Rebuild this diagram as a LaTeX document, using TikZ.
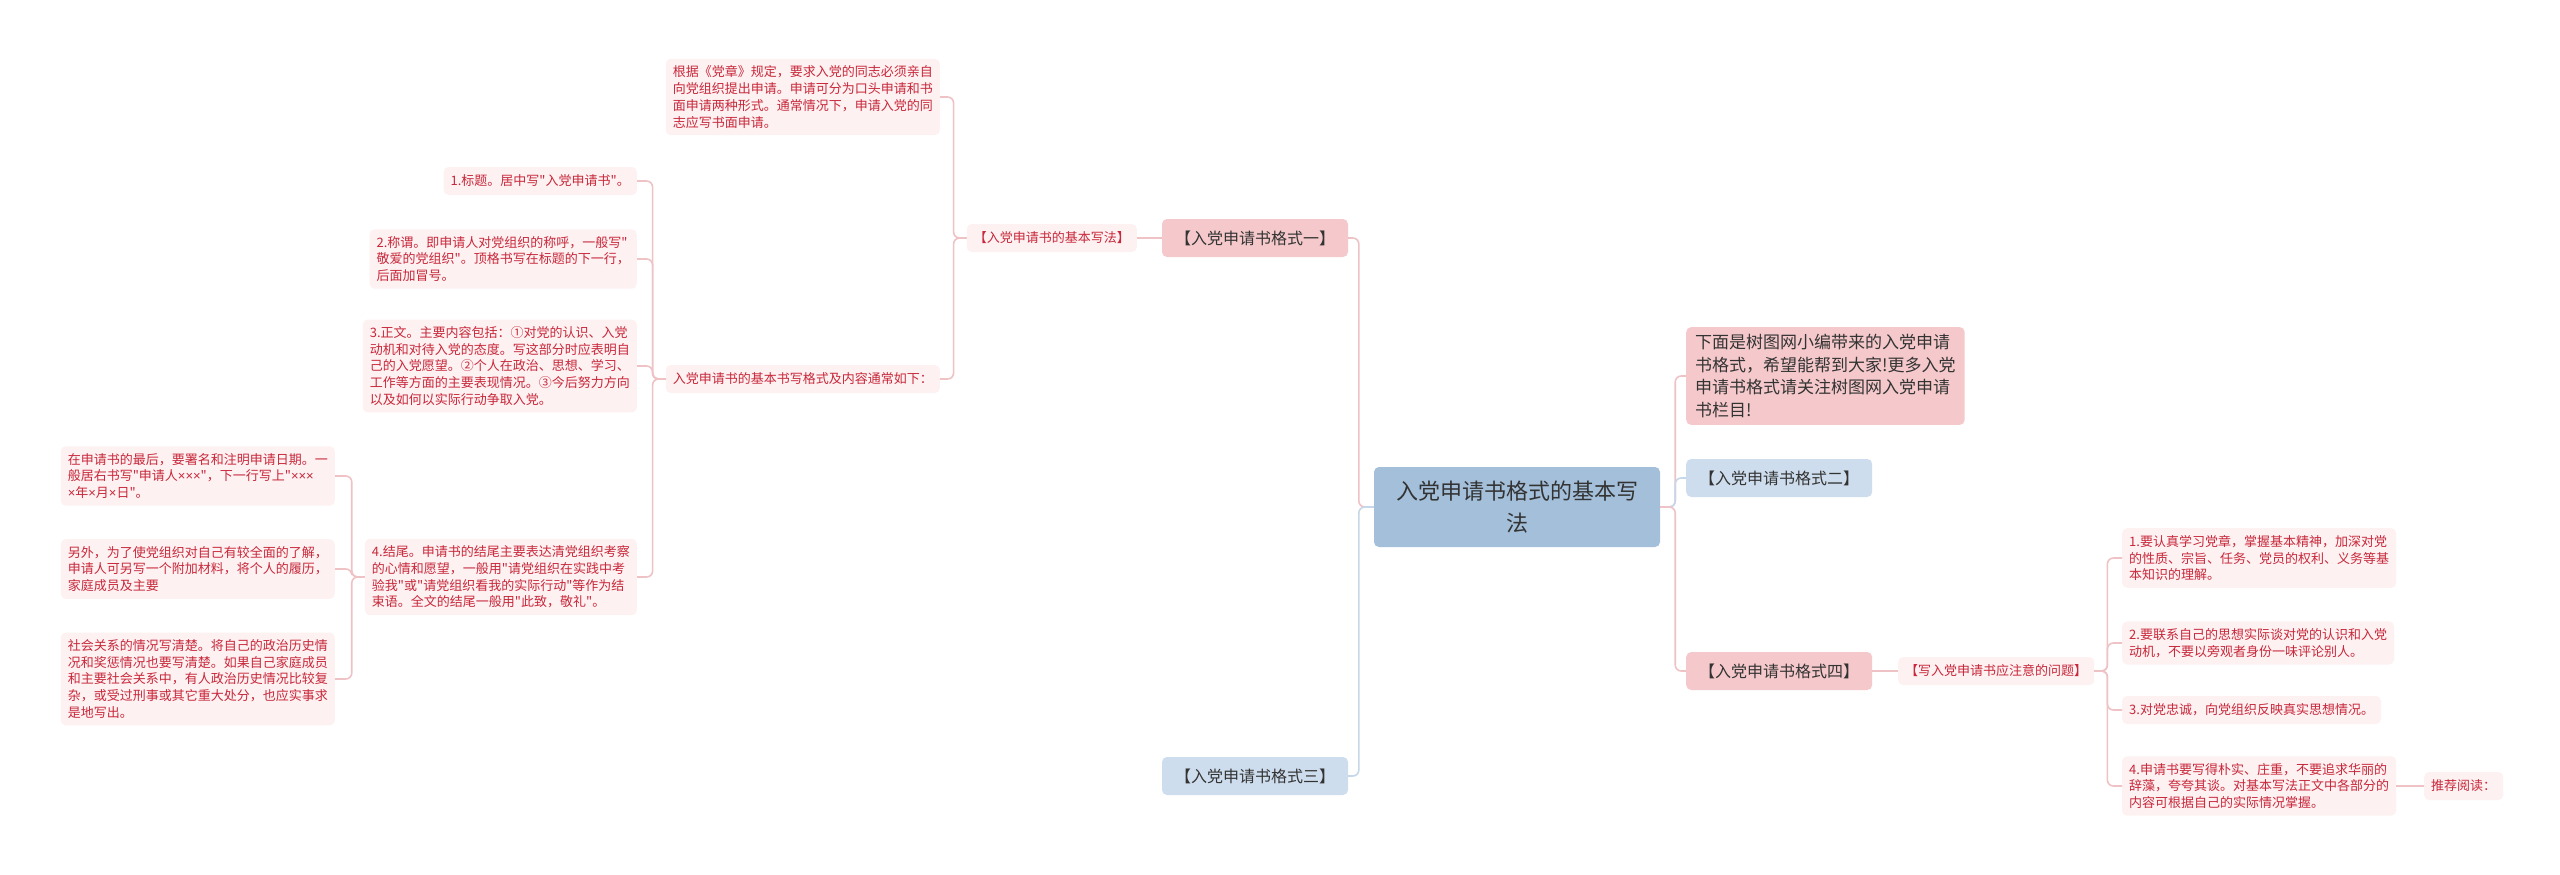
\documentclass[tikz,border=0pt]{standalone}
\usepackage{fontspec}
\newfontfamily\cjkfont{Noto Sans CJK SC}
\newfontfamily\latinfont{Liberation Sans}
\newcommand{\cross}{{\latinfont ×}}
\usepackage{xcolor}
\usetikzlibrary{positioning}
\definecolor{rootblue}{HTML}{A3BFD9}
\definecolor{lightblue}{HTML}{CEDDED}
\definecolor{midpink}{HTML}{F5C9CB}
\definecolor{palepink}{HTML}{FDF1F2}
\definecolor{leafred}{HTML}{C8283A}
\definecolor{darktext}{HTML}{333333}
\definecolor{linkpink}{HTML}{EFC2C5}
\definecolor{linkblue}{HTML}{C6D7E9}

\begin{document}
\begin{tikzpicture}[x=1pt,y=-1pt,
  rootbox/.style={fill=rootblue,rounded corners=5,text=darktext,align=center,font=\cjkfont\fontsize{22}{32}\selectfont,minimum width=286,minimum height=80},
  mainbox/.style={rounded corners=5,text=darktext,font=\cjkfont\fontsize{16}{22}\selectfont,minimum width=186,minimum height=38},
  notebox/.style={fill=midpink,rounded corners=5,text=darktext,align=left,font=\cjkfont\fontsize{17}{22.7}\selectfont,inner xsep=9,inner ysep=7},
  leafbox/.style={fill=palepink,rounded corners=5,text=leafred,align=left,font=\cjkfont\fontsize{13}{16.7}\selectfont,inner xsep=7,inner ysep=7,minimum height=28},
  link/.style={draw=linkpink,line width=1.6,rounded corners=6},
  bluelink/.style={link,draw=linkblue}]
\useasboundingbox[fill=white] (0,0) rectangle (2560,875);

% centre
\node[rootbox] (root) at (1517,507) {入党申请书格式的基本写\\法};

% left half
\node[mainbox,fill=midpink] (fmt1) at (1255,238) {【入党申请书格式一】};
\node[mainbox,fill=lightblue] (fmt3) at (1255,776) {【入党申请书格式三】};
\node[leafbox,anchor=east] (basic) at (1137,238) {【入党申请书的基本写法】};
\node[leafbox,anchor=east] (intro) at (940,97) {根据《党章》规定，要求入党的同志必须亲自\\向党组织提出申请。申请可分为口头申请和书\\面申请两种形式。通常情况下，申请入党的同\\志应写书面申请。};
\node[leafbox,anchor=east] (format) at (940,379) {入党申请书的基本书写格式及内容通常如下：};
\node[leafbox,anchor=east] (t1) at (637,181) {1.标题。居中写"入党申请书"。};
\node[leafbox,anchor=east] (t2) at (637,259) {2.称谓。即申请人对党组织的称呼，一般写"\\敬爱的党组织"。顶格书写在标题的下一行，\\后面加冒号。};
\node[leafbox,anchor=east] (t3) at (637,366) {3.正文。主要内容包括：①对党的认识、入党\\动机和对待入党的态度。写这部分时应表明自\\己的入党愿望。②个人在政治、思想、学习、\\工作等方面的主要表现情况。③今后努力方向\\以及如何以实际行动争取入党。};
\node[leafbox,anchor=east] (t4) at (637,577) {4.结尾。申请书的结尾主要表达清党组织考察\\的心情和愿望，一般用"请党组织在实践中考\\验我"或"请党组织看我的实际行动"等作为结\\束语。全文的结尾一般用"此致，敬礼"。};
\node[leafbox,anchor=east] (e1) at (335,476) {在申请书的最后，要署名和注明申请日期。一\\般居右书写"申请人\cross\cross\cross"，下一行写上"\cross\cross\cross\\\cross 年\cross 月\cross 日"。};
\node[leafbox,anchor=east] (e2) at (335,569) {另外，为了使党组织对自己有较全面的了解，\\申请人可另写一个附加材料，将个人的履历，\\家庭成员及主要};
\node[leafbox,anchor=east] (e3) at (335,679) {社会关系的情况写清楚。将自己的政治历史情\\况和奖惩情况也要写清楚。如果自己家庭成员\\和主要社会关系中，有人政治历史情况比较复\\杂，或受过刑事或其它重大处分，也应实事求\\是地写出。};

% right half
\node[notebox,anchor=west] (note) at (1686,376) {下面是树图网小编带来的入党申请\\书格式，希望能帮到大家!更多入党\\申请书格式请关注树图网入党申请\\书栏目!};
\node[mainbox,fill=lightblue,anchor=west] (fmt2) at (1686,478) {【入党申请书格式二】};
\node[mainbox,fill=midpink,anchor=west] (fmt4) at (1686,671) {【入党申请书格式四】};
\node[leafbox,anchor=west] (issue) at (1898,671) {【写入党申请书应注意的问题】};
\node[leafbox,anchor=west] (p1) at (2122,558) {1.要认真学习党章，掌握基本精神，加深对党\\的性质、宗旨、任务、党员的权利、义务等基\\本知识的理解。};
\node[leafbox,anchor=west] (p2) at (2122,643) {2.要联系自己的思想实际谈对党的认识和入党\\动机，不要以旁观者身份一味评论别人。};
\node[leafbox,anchor=west] (p3) at (2122,710) {3.对党忠诚，向党组织反映真实思想情况。};
\node[leafbox,anchor=west] (p4) at (2122,786) {4.申请书要写得朴实、庄重，不要追求华丽的\\辞藻，夸夸其谈。对基本写法正文中各部分的\\内容可根据自己的实际情况掌握。};
\node[leafbox,anchor=west] (rec) at (2424,786) {推荐阅读：};

% links
\draw[link] (root.west) -- ++(-15,0) |- (fmt1.east);
\draw[bluelink] (root.west) -- ++(-15,0) |- (fmt3.east);
\draw[link] (fmt1.west) -- (basic.east);
\draw[link] (basic.west) -- ++(-13,0) |- (intro.east);
\draw[link] (basic.west) -- ++(-13,0) |- (format.east);
\draw[link] (format.west) -- ++(-13,0) |- (t1.east);
\draw[link] (format.west) -- ++(-13,0) |- (t2.east);
\draw[link] (format.west) -- ++(-13,0) |- (t3.east);
\draw[link] (format.west) -- ++(-13,0) |- (t4.east);
\draw[link] (t4.west) -- ++(-13,0) |- (e1.east);
\draw[link] (t4.west) -- ++(-13,0) |- (e2.east);
\draw[link] (t4.west) -- ++(-13,0) |- (e3.east);
\draw[link] (root.east) -- ++(15,0) |- (note.west);
\draw[bluelink] (root.east) -- ++(15,0) |- (fmt2.west);
\draw[link] (root.east) -- ++(15,0) |- (fmt4.west);
\draw[link] (fmt4.east) -- (issue.west);
\draw[link] (issue.east) -- ++(13,0) |- (p1.west);
\draw[link] (issue.east) -- ++(13,0) |- (p2.west);
\draw[link] (issue.east) -- ++(13,0) |- (p3.west);
\draw[link] (issue.east) -- ++(13,0) |- (p4.west);
\draw[link] (p4.east) -- (rec.west);
\end{tikzpicture}
\end{document}
